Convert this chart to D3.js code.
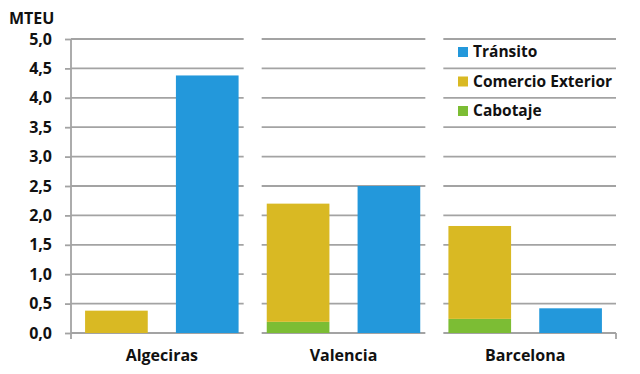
<!DOCTYPE html>
<html>
<head>
<meta charset="utf-8">
<script src="https://cdn.jsdelivr.net/npm/d3@7"></script>
<style>
  body { margin: 0; background: #fff; }
  text { font-family: "Open Sans", Lato, sans-serif; font-weight: bold; fill: #111; }
</style>
</head>
<body>
<svg id="chart" width="640" height="374"></svg>
<script>
// data, MTEU
var ports = ["Algeciras", "Valencia", "Barcelona"];
var cabotaje = [0, 0.19, 0.24];
var comercio = [0.38, 2.01, 1.58];
var transito = [4.38, 2.5, 0.42];
var yTicks = [0, 0.5, 1, 1.5, 2, 2.5, 3, 3.5, 4, 4.5, 5];
var legendNames = ["Tránsito", "Comercio Exterior", "Cabotaje"];

(function() {
var colors = { "Tránsito": "#2398db", "Comercio Exterior": "#d9b923", "Cabotaje": "#7cbd34" };
var gridColor = "#a3a3a3";
var fontFam = "'Open Sans', Lato, sans-serif";

var svg = d3.select("#chart");
var mLeft = 71, mRight = 616, mTop = 39, mBottom = 333;

var y = d3.scaleLinear().domain([0, 5]).range([mBottom, mTop]);
var xPort = d3.scaleBand().domain(ports).range([mLeft, mRight]);
var slots = [];
ports.forEach(function(p) { slots.push(p + "|stack", p + "|tr"); });
var x = d3.scaleBand().domain(slots).range([mLeft, mRight]).paddingInner(0.31).paddingOuter(0.155);

// gridlines, broken between the ports
var gap = 9;
ports.forEach(function(p, i) {
  var x1 = xPort(p) + (i > 0 ? gap : 0);
  var x2 = xPort(p) + xPort.bandwidth() - (i < ports.length - 1 ? gap : 0);
  svg.append("g").selectAll("line")
    .data(yTicks)
    .enter().append("line")
      .attr("x1", x1).attr("x2", x2)
      .attr("y1", function(d) { return y(d); })
      .attr("y2", function(d) { return y(d); })
      .attr("stroke", gridColor)
      .attr("stroke-width", 1.8);
});

// y axis
var yAxis = d3.axisLeft(y).tickValues(yTicks).tickSize(6).tickPadding(13)
  .tickFormat(function(d) { return d3.format(".1f")(d).replace(".", ","); });
var ga = svg.append("g").attr("transform", "translate(" + mLeft + ",0)").call(yAxis);
ga.select(".domain").remove();
ga.selectAll(".tick line").attr("stroke", gridColor).attr("stroke-width", 1.8);
ga.selectAll(".tick text").style("font-size", "16px").style("font-family", fontFam).attr("fill", "#111");
svg.append("line").attr("x1", mLeft).attr("x2", mLeft).attr("y1", mTop).attr("y2", mBottom + 6)
  .attr("stroke", gridColor).attr("stroke-width", 1.8);
svg.append("line").attr("x1", mRight).attr("x2", mRight).attr("y1", mBottom).attr("y2", mBottom + 6)
  .attr("stroke", gridColor).attr("stroke-width", 1.8);

svg.append("text").attr("x", 9).attr("y", 24).style("font-size", "16px").text("MTEU");

// stacked bars: cabotaje + comercio exterior
var stackRows = ports.map(function(p, i) {
  return { port: p, "Cabotaje": cabotaje[i], "Comercio Exterior": comercio[i] };
});
var series = d3.stack().keys(["Cabotaje", "Comercio Exterior"])(stackRows);

svg.append("g").selectAll("g")
  .data(series)
  .enter().append("g")
    .attr("fill", function(s) { return colors[s.key]; })
  .selectAll("rect")
  .data(function(s) { return s.filter(function(d) { return d[1] - d[0] > 0; }); })
  .enter().append("rect")
    .attr("x", function(d) { return x(d.data.port + "|stack"); })
    .attr("width", x.bandwidth())
    .attr("y", function(d) { return y(d[1]); })
    .attr("height", function(d) { return y(d[0]) - y(d[1]); });

// transito bars
svg.append("g").selectAll("rect")
  .data(ports)
  .enter().append("rect")
    .attr("x", function(p) { return x(p + "|tr"); })
    .attr("width", x.bandwidth())
    .attr("y", function(p, i) { return y(transito[i]); })
    .attr("height", function(p, i) { return y(0) - y(transito[i]); })
    .attr("fill", colors["Tránsito"]);

// port labels
svg.append("g").selectAll("text")
  .data(ports)
  .enter().append("text")
    .attr("x", function(p) { return xPort(p) + xPort.bandwidth() / 2; })
    .attr("y", 361)
    .attr("text-anchor", "middle")
    .style("font-size", "16px")
    .text(function(p) { return p; });

// legend
var legY = [52, 81.5, 111];
var leg = svg.append("g").selectAll("g")
  .data(legendNames)
  .enter().append("g")
    .attr("transform", function(d, i) { return "translate(458," + legY[i] + ")"; });
leg.append("rect").attr("x", 0).attr("y", -5).attr("width", 10).attr("height", 10)
  .attr("fill", function(d) { return colors[d]; });
leg.append("text").attr("x", 15).attr("dy", "0.35em").style("font-size", "15.5px")
  .text(function(d) { return d; });
})();
</script>
</body>
</html>
